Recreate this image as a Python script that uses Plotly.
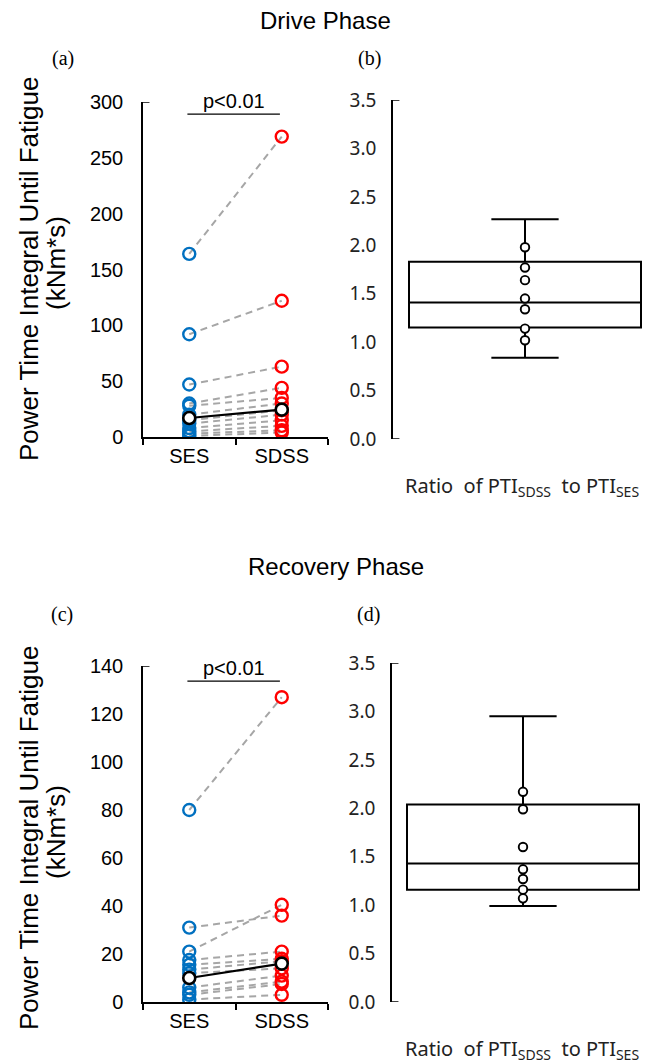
import plotly.graph_objects as go

W, H = 650, 1063

# ---------------- data ----------------
categories = ["SES", "SDSS"]

# Drive phase: individual PTI values (kNm*s)
drive_ses = [164, 92, 47, 30, 28, 20, 15, 12, 8, 5, 3, 1]
drive_sdss = [269, 122, 63, 44, 35, 30, 24, 20, 15, 10, 6, 4]
drive_mean = [17, 24.5]

# Recovery phase: individual PTI values (kNm*s)
rec_ses = [80, 31, 21, 17.5, 15.5, 13.5, 12, 6, 4, 3, 1]
rec_sdss = [127, 36, 40.5, 21, 18, 17, 14, 11, 8.5, 7.5, 3]
rec_mean = [10, 16]

# Ratio boxes (b) and (d)
drive_ratio_box = {"q1": 1.15, "median": 1.41, "q3": 1.83, "low": 0.84, "high": 2.27}
drive_ratio_pts = [1.98, 1.77, 1.64, 1.45, 1.34, 1.14, 1.02]
rec_ratio_box = {"q1": 1.16, "median": 1.43, "q3": 2.04, "low": 0.99, "high": 2.95}
rec_ratio_pts = [2.17, 1.99, 1.60, 1.37, 1.27, 1.16, 1.07]

drive_ticks = [0, 50, 100, 150, 200, 250, 300]
rec_ticks = [0, 20, 40, 60, 80, 100, 120, 140]
ratio_ticks = [0.0, 0.5, 1.0, 1.5, 2.0, 2.5, 3.0, 3.5]

BLUE = "#0070C0"
RED = "#FF0000"
GRAY = "#A6A6A6"
SANS = "Liberation Sans"
SEG = "Noto Sans"

fig = go.Figure()


def paired(ses, sdss, mean, xa, ya):
    for a, b in zip(ses, sdss):
        fig.add_trace(go.Scatter(x=categories, y=[a, b], mode="lines",
                                 line=dict(color=GRAY, width=2, dash="7px,5px"),
                                 xaxis=xa, yaxis=ya, showlegend=False, hoverinfo="skip"))
    fig.add_trace(go.Scatter(x=[categories[0]] * len(ses), y=ses, mode="markers",
                             marker=dict(symbol="circle-open", size=12, color=BLUE,
                                         line=dict(width=2.4, color=BLUE)),
                             xaxis=xa, yaxis=ya, showlegend=False))
    fig.add_trace(go.Scatter(x=[categories[1]] * len(sdss), y=sdss, mode="markers",
                             marker=dict(symbol="circle-open", size=12, color=RED,
                                         line=dict(width=2.4, color=RED)),
                             xaxis=xa, yaxis=ya, showlegend=False))
    fig.add_trace(go.Scatter(x=categories, y=mean, mode="lines+markers",
                             line=dict(color="black", width=2.2),
                             marker=dict(symbol="circle", size=12, color="white",
                                         line=dict(width=2.6, color="black")),
                             xaxis=xa, yaxis=ya, showlegend=False))


def ratio_box(box, pts, xa, ya):
    fig.add_trace(go.Box(x=[0], q1=[box["q1"]], median=[box["median"]], q3=[box["q3"]],
                         lowerfence=[box["low"]], upperfence=[box["high"]],
                         width=232, whiskerwidth=0.29, boxpoints=False,
                         fillcolor="white", line=dict(color="black", width=2),
                         xaxis=xa, yaxis=ya, showlegend=False))
    fig.add_trace(go.Scatter(x=[0] * len(pts), y=pts, mode="markers",
                             marker=dict(symbol="circle", size=8.5, color="white",
                                         line=dict(width=1.9, color="black")),
                             xaxis=xa, yaxis=ya, showlegend=False))


paired(drive_ses, drive_sdss, drive_mean, "x", "y")
ratio_box(drive_ratio_box, drive_ratio_pts, "x2", "y2")
paired(rec_ses, rec_sdss, rec_mean, "x3", "y3")
ratio_box(rec_ratio_box, rec_ratio_pts, "x4", "y4")


def py(p):  # pixel y (from top) to paper
    return 1 - p / H


def px(p):
    return p / W


cat_x = dict(type="category", range=[-0.5, 1.5], showline=True, linecolor="black",
             linewidth=1.5, ticks="outside", tickson="boundaries", ticklen=6,
             tickcolor="black", tickwidth=1.5, showgrid=False, zeroline=False,
             automargin=False, tickfont=dict(family=SANS, size=20, color="black"))
num_y = dict(showline=True, linecolor="black", linewidth=1.5, ticks="", showgrid=False,
             zeroline=False, automargin=False, tickfont=dict(family=SANS, size=20, color="black"),
             ticklabelstandoff=14)
box_x = dict(visible=False, showgrid=False, zeroline=False, automargin=False)
box_y = dict(showline=True, linecolor="black", linewidth=1.5, ticks="", showgrid=False,
             zeroline=False, automargin=False, range=[0, 3.5], tickvals=ratio_ticks,
             ticktext=[f"{v:.1f}" for v in ratio_ticks],
             tickfont=dict(family=SEG, size=19, color="#222222"), ticklabelstandoff=11)

fig.update_layout(
    template="none",
    width=W, height=H, margin=dict(l=0, r=0, t=0, b=0, autoexpand=False),
    paper_bgcolor="white", plot_bgcolor="white", showlegend=False,
    xaxis=dict(cat_x, domain=[px(143), px(328)], anchor="y"),
    yaxis=dict(num_y, domain=[py(437), py(102)], range=[0, 300], tickvals=drive_ticks, anchor="x"),
    xaxis2=dict(box_x, domain=[px(393), 1.0], range=[-132, 125], anchor="y2"),
    yaxis2=dict(box_y, domain=[py(439), py(100)], anchor="x2"),
    xaxis3=dict(cat_x, domain=[px(143), px(328)], anchor="y3"),
    yaxis3=dict(num_y, domain=[py(1002), py(666)], range=[0, 140], tickvals=rec_ticks, anchor="x3"),
    xaxis4=dict(box_x, domain=[px(392), 1.0], range=[-131, 127], anchor="y4"),
    yaxis4=dict(box_y, domain=[py(1002), py(663)], anchor="x4"),
)

shapes = []
# axis end caps
for xa, ya, top in [("x", "y", 300), ("x3", "y3", 140)]:
    shapes.append(dict(type="line", xref=f"{xa} domain", yref=ya, x0=0, x1=0.035, y0=top, y1=top,
                       line=dict(color="black", width=1.5)))
for xa, ya in [("x2", "y2"), ("x4", "y4")]:
    for v in (0, 3.5):
        shapes.append(dict(type="line", xref=f"{xa} domain", yref=ya, x0=0, x1=0.025, y0=v, y1=v,
                           line=dict(color="black", width=1.5)))
# significance brackets
shapes.append(dict(type="line", xref="x", yref="y domain", x0=-0.02, x1=0.98, y0=0.964, y1=0.964,
                   line=dict(color="black", width=1.2)))
shapes.append(dict(type="line", xref="x3", yref="y3 domain", x0=-0.02, x1=0.98, y0=0.955, y1=0.955,
                   line=dict(color="black", width=1.2)))
fig.update_layout(shapes=shapes)


def note(text, x, y, size, family=SANS, color="black", angle=0):
    return dict(text=text, x=px(x), y=py(y), xref="paper", yref="paper", showarrow=False,
                xanchor="center", yanchor="middle", textangle=angle,
                font=dict(family=family, size=size, color=color))


ann = [note("Drive Phase", 325, 20, 24), note("Recovery Phase", 336, 566, 24)]
for t, x, y in [("(a)", 63, 59), ("(b)", 369, 58), ("(c)", 62, 614), ("(d)", 368, 614)]:
    ann.append(note(t, x, y, 20, family="Liberation Serif"))
for yc in (269, 838):
    ann.append(note("Power Time Integral Until Fatigue", 29, yc, 26, angle=-90))
    ann.append(note("(kNm*s)", 56, yc - 6, 26, angle=-90))
for yc in (487, 1049):
    ann.append(note("Ratio  of PTI<sub>SDSS</sub>  to PTI<sub>SES</sub>", 522, yc, 20,
                    family=SEG, color="#222222"))
ann.append(dict(text="p<0.01", x=0.48, y=0.964, xref="x", yref="y domain", yanchor="bottom",
                xanchor="center", showarrow=False, font=dict(family=SANS, size=20, color="black")))
ann.append(dict(text="p<0.01", x=0.48, y=0.955, xref="x3", yref="y3 domain", yanchor="bottom",
                xanchor="center", showarrow=False, font=dict(family=SANS, size=20, color="black")))
fig.update_layout(annotations=ann)

fig.write_html("out.html", config={"displayModeBar": False},
               post_script="document.body.style.margin='0';")
